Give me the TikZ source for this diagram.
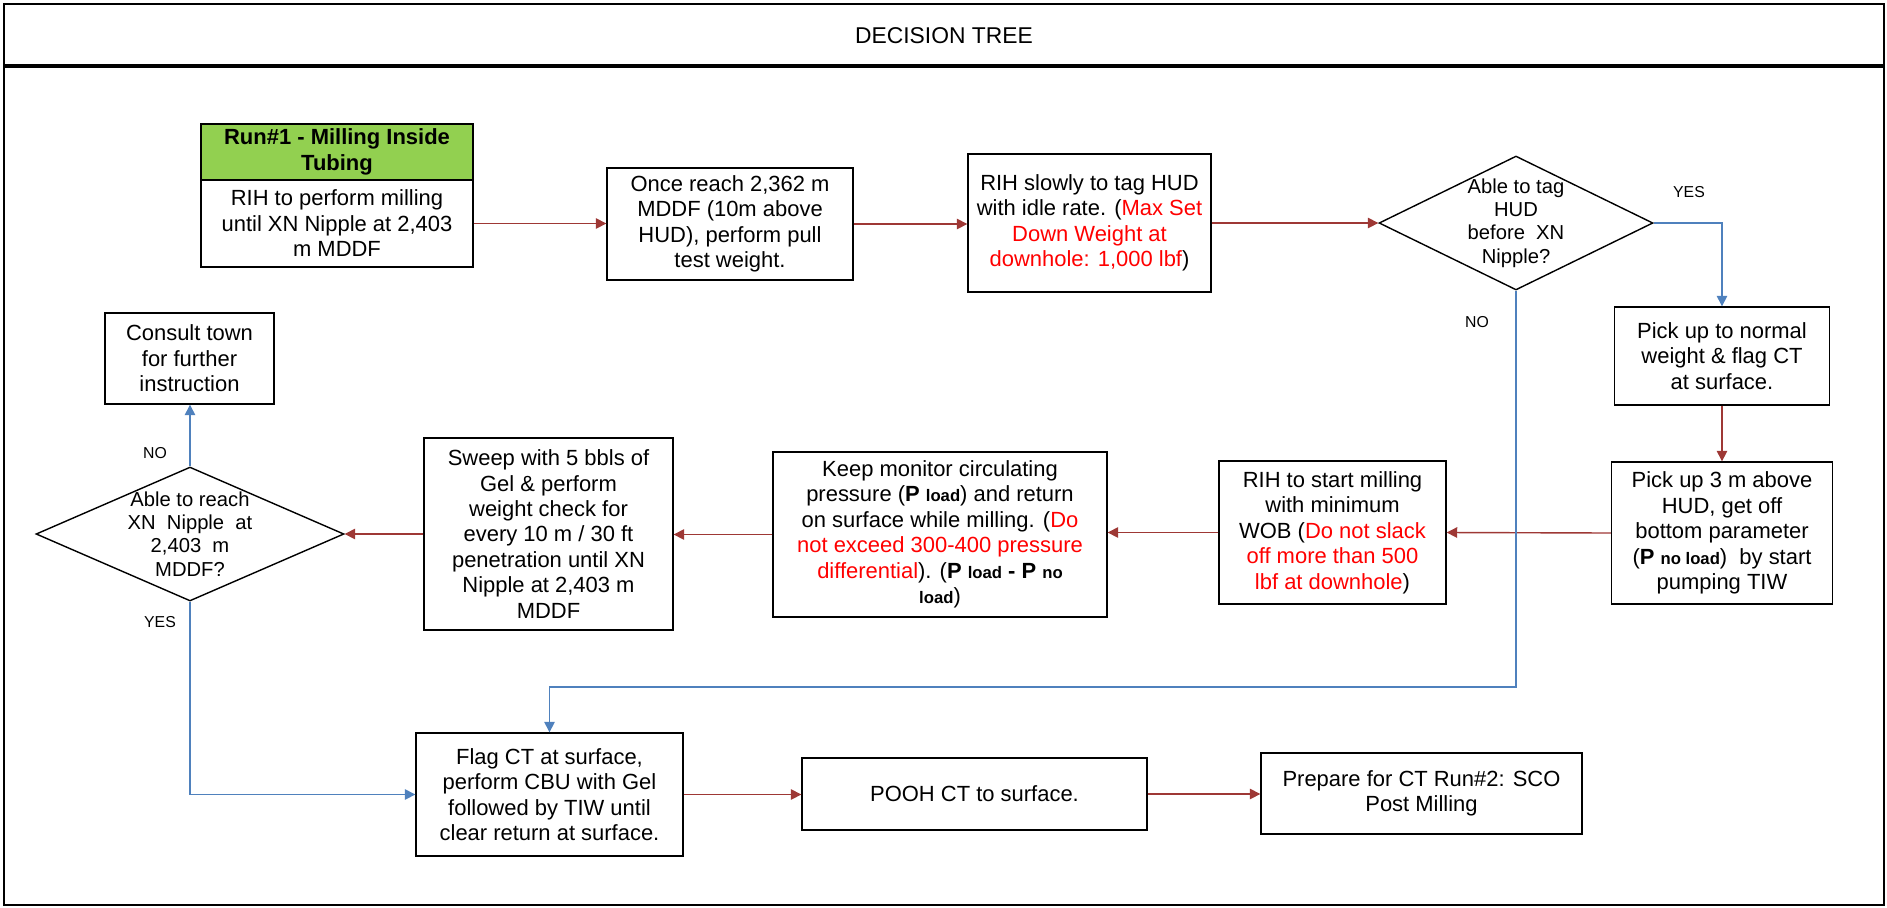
\documentclass[tikz,border=0pt]{standalone}
\usepackage{fontspec}
\setmainfont{Liberation Sans}
\usetikzlibrary{arrows.meta, shapes.geometric, calc}
\definecolor{dgreen}{HTML}{92D050}
\definecolor{dred}{HTML}{9E3835}
\definecolor{dblue}{HTML}{4F81BD}
\definecolor{txtred}{HTML}{FF0000}
\newcommand{\boxfont}{\fontsize{12.5}{14.5}\selectfont}
\newcommand{\decfont}{\fontsize{11.5}{13.2}\selectfont}
\newcommand{\lblfont}{\fontsize{9}{10}\selectfont}
\newcommand{\titlefont}{\fontsize{13}{15}\selectfont}
\newcommand{\redtxt}[1]{\textcolor{txtred}{#1}}
\newcommand{\subtxt}[1]{{\fontsize{9.5}{11}\selectfont\bfseries #1}}
\tikzset{
  stepbox/.style={draw=black, line width=0.8pt, fill=white, align=center,
                  inner sep=2pt, font=\boxfont},
  headbox/.style={stepbox, fill=dgreen, font=\boxfont\bfseries},
  decbox/.style={draw=black, line width=0.8pt, diamond, inner sep=0pt},
  dectext/.style={align=center, font=\decfont},
  lbl/.style={font=\lblfont},
  rarr/.style={-{Triangle[length=6pt, width=6pt]}, dred, line width=0.8pt},
  barr/.style={-{Triangle[length=6pt, width=6pt]}, dblue, line width=0.8pt},
}
\begin{document}
\begin{tikzpicture}[x=0.02cm, y=-0.02cm]
  \useasboundingbox (0,0) rectangle (1887,907);

  %% Frame and title
  \draw[line width=1.3pt] (4,4) rectangle (1884,905);
  \draw[line width=1.8pt] (4,66) -- (1884,66);
  \node[font=\titlefont] (title) at (944,36) {DECISION TREE};

  %% Top row
  \node[headbox, minimum width=5.44cm, minimum height=1.12cm] (run1h) at (337,152)
    {Run\#1 - Milling Inside\\Tubing};
  \node[stepbox, minimum width=5.44cm, minimum height=1.74cm] (run1) at (337,223.5)
    {RIH to perform milling\\until XN Nipple at 2,403\\m MDDF};
  \node[stepbox, minimum width=4.92cm, minimum height=2.24cm] (once) at (730,224)
    {Once reach 2,362 m\\MDDF (10m above\\HUD), perform pull\\test weight.};
  \node[stepbox, minimum width=4.86cm, minimum height=2.76cm] (tag) at (1089.5,223)
    {RIH slowly to tag HUD\\with idle rate. (\redtxt{Max Set}\\\redtxt{Down Weight at}\\\redtxt{downhole: 1,000 lbf})};
  \node[decbox, minimum width=5.48cm, minimum height=2.68cm] (dec1) at (1516,223) {};
  \node[dectext] (dec1txt) at (dec1.center) {Able to tag\\HUD\\before~~XN\\Nipple?};
  \node[lbl] (yes1) at (1689,192) {YES};
  \node[lbl] (no1) at (1477,322) {NO};

  %% Right column
  \node[stepbox, minimum width=4.3cm, minimum height=1.96cm] (pick1) at (1722,356)
    {Pick up to normal\\weight \& flag CT\\at surface.};
  \node[stepbox, minimum width=4.42cm, minimum height=2.84cm] (pick2) at (1722,533)
    {Pick up 3 m above\\HUD, get off\\bottom parameter\\(\textbf{P} \subtxt{no load})~~by start\\pumping TIW};

  %% Middle row
  \node[stepbox, minimum width=4.54cm, minimum height=2.86cm] (mill) at (1332.5,532.5)
    {RIH to start milling\\with minimum\\WOB (\redtxt{Do not slack}\\\redtxt{off more than 500}\\\redtxt{lbf at downhole})};
  \node[stepbox, minimum width=6.68cm, minimum height=3.3cm] (keep) at (940,534.5)
    {Keep monitor circulating\\pressure (\textbf{P} \subtxt{load}) and return\\on surface while milling. (\redtxt{Do}\\\redtxt{not exceed 300-400 pressure}\\\redtxt{differential}). (\textbf{P} \subtxt{load} \textbf{-} \textbf{P} \subtxt{no}\\\subtxt{load})};
  \node[stepbox, minimum width=4.98cm, minimum height=3.84cm] (sweep) at (548.5,534)
    {Sweep with 5 bbls of\\Gel \& perform\\weight check for\\every 10 m / 30 ft\\penetration until XN\\Nipple at 2,403 m\\MDDF};
  \node[decbox, minimum width=6.16cm, minimum height=2.68cm] (dec2) at (190,534) {};
  \node[dectext] (dec2txt) at (dec2.center) {Able to reach\\XN~~Nipple~~at\\2,403~~m\\MDDF?};
  \node[lbl] (no2) at (155,453) {NO};
  \node[lbl] (yes2) at (160,622) {YES};
  \node[stepbox, minimum width=3.38cm, minimum height=1.82cm] (consult) at (189.5,358.5)
    {Consult town\\for further\\instruction};

  %% Bottom row
  \node[stepbox, minimum width=5.34cm, minimum height=2.46cm] (flag) at (549.5,794.5)
    {Flag CT at surface,\\perform CBU with Gel\\followed by TIW until\\clear return at surface.};
  \node[stepbox, minimum width=6.9cm, minimum height=1.44cm] (pooh) at (974.5,794)
    {POOH CT to surface.};
  \node[stepbox, minimum width=6.42cm, minimum height=1.62cm] (prep) at (1421.5,793.5)
    {Prepare for CT Run\#2: SCO\\Post Milling};

  %% Connectors
  \draw[rarr] (run1.east) -- (run1.east -| once.west);
  \draw[rarr] (once.east) -- (once.east -| tag.west);
  \draw[rarr] (tag.east) -- (dec1.west);
  \draw[rarr] (pick1.south) -- (pick2.north);
  \draw[rarr] (pick2.west) -- (mill.east);
  \draw[rarr] (mill.west) -- (mill.west -| keep.east);
  \draw[rarr] (keep.west) -- (keep.west -| sweep.east);
  \draw[rarr] (sweep.west) -- (dec2.east);
  \draw[rarr] (flag.east) -- (flag.east -| pooh.west);
  \draw[rarr] (pooh.east) -- (pooh.east -| prep.west);

  \coordinate (nobend) at (1516,687);
  \draw[barr] (dec1.east) -| (pick1.north);
  \draw[barr] (dec1.south) -- (nobend) -| (flag.north);
  \draw[barr] (dec2.north) -- (dec2.north |- consult.south);
  \draw[barr] (dec2.south) |- (flag.west);
\end{tikzpicture}
\end{document}
